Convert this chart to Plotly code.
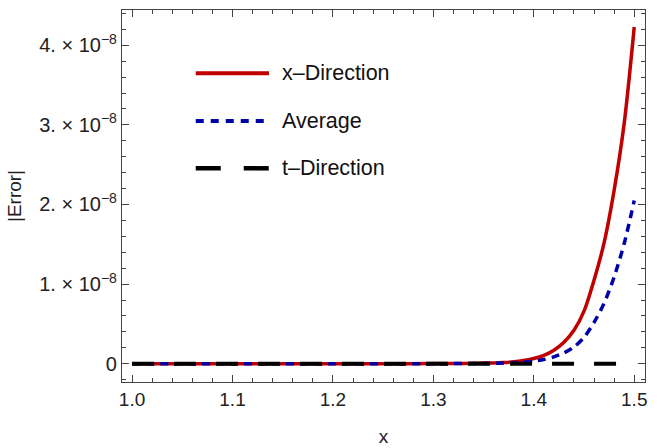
import plotly.graph_objects as go

# Sample positions along x
x_vals = [1.00, 1.05, 1.10, 1.15, 1.20, 1.25, 1.30, 1.32, 1.34, 1.36, 1.37, 1.38,
          1.39, 1.40, 1.41, 1.42, 1.43, 1.44, 1.45, 1.46, 1.47, 1.48, 1.49, 1.50]

# |Error| in units of 1e-8
err_x_dir = [0, 0, 0, 0, 0, 0, 0.001, 0.002, 0.005, 0.010, 0.015, 0.023,
             0.040, 0.065, 0.105, 0.17, 0.27, 0.42, 0.66, 1.05, 1.52, 2.18, 3.02, 4.23]
err_avg = [0, 0, 0, 0, 0, 0, 0.0005, 0.001, 0.0025, 0.005, 0.0075, 0.012,
           0.020, 0.032, 0.052, 0.085, 0.135, 0.21, 0.33, 0.52, 0.76, 1.09, 1.51, 2.05]
err_t_dir = [0] * len(x_vals)

series_names = ["x\u2013Direction", "Average", "t\u2013Direction"]
series_colors = ["#c00000", "#0000a8", "#000000"]

y_tick_vals = [0, 1, 2, 3, 4]
y_tick_text = ["0"] + [f"{v}. \u00d7 10<sup>\u22128</sup>" for v in y_tick_vals[1:]]
x_tick_vals = [1.0, 1.1, 1.2, 1.3, 1.4, 1.5]
x_tick_text = ["1.0", "1.1", "1.2", "1.3", "1.4", "1.5"]

scale = 1e-8
fig = go.Figure()
fig.add_trace(go.Scatter(x=x_vals, y=[v * scale for v in err_x_dir], mode="lines",
                         line=dict(color=series_colors[0], width=3.5, shape="spline", smoothing=0.8),
                         name=series_names[0]))
fig.add_trace(go.Scatter(x=x_vals, y=[v * scale for v in err_avg], mode="lines",
                         line=dict(color=series_colors[1], width=3.5, dash="8px,6px", shape="spline", smoothing=0.8),
                         name=series_names[1]))
fig.add_trace(go.Scatter(x=x_vals, y=[v * scale for v in err_t_dir], mode="lines",
                         line=dict(color=series_colors[2], width=4, dash="22px,20px"),
                         name=series_names[2]))

# Hand-drawn legend: line samples plus labels
legend_rows = [
    (0.8298, dict(color=series_colors[0], width=4)),
    (0.7016, dict(color=series_colors[1], width=4, dash="8px,7px")),
    (0.5745, dict(color=series_colors[2], width=4.5, dash="25px,23px")),
]
for (ypos, ln), name in zip(legend_rows, series_names):
    fig.add_shape(type="line", xref="paper", yref="paper", x0=0.141, x1=0.281,
                  y0=ypos, y1=ypos, line=ln)
    fig.add_annotation(xref="paper", yref="paper", x=0.302, y=ypos, text=name,
                       showarrow=False, xanchor="left", yanchor="middle",
                       font=dict(size=21.5, color="#111"))

axis_common = dict(
    showline=True, linecolor="#444", linewidth=1.3, mirror="allticks",
    ticks="inside", tickcolor="#444", ticklen=7, tickwidth=1.2,
    showgrid=False, zeroline=False, automargin=False,
    tickfont=dict(family="Liberation Sans, Arial, sans-serif", size=19, color="#222"),
)

fig.update_layout(
    width=659, height=448,
    margin=dict(l=122, r=14, t=10, b=66),
    paper_bgcolor="white", plot_bgcolor="white",
    showlegend=False,
    font=dict(family="Liberation Sans, Arial, sans-serif", color="#222"),
    xaxis=dict(**axis_common, range=[0.990, 1.5107], tickvals=x_tick_vals, ticktext=x_tick_text,
               minor=dict(ticks="inside", ticklen=4, dtick=0.02, tickcolor="#444", tickwidth=1),
               title=dict(text="x", font=dict(size=19), standoff=20)),
    yaxis=dict(**axis_common, range=[-0.230e-8, 4.443e-8],
               tickvals=[v * scale for v in y_tick_vals], ticktext=y_tick_text,
               minor=dict(ticks="inside", ticklen=4, dtick=0.2e-8, tickcolor="#444", tickwidth=1),
               title=dict(text="|Error|", font=dict(size=19), standoff=12)),
)
fig.update_yaxes(tickfont=dict(size=20))

fig.write_html("out.html")
